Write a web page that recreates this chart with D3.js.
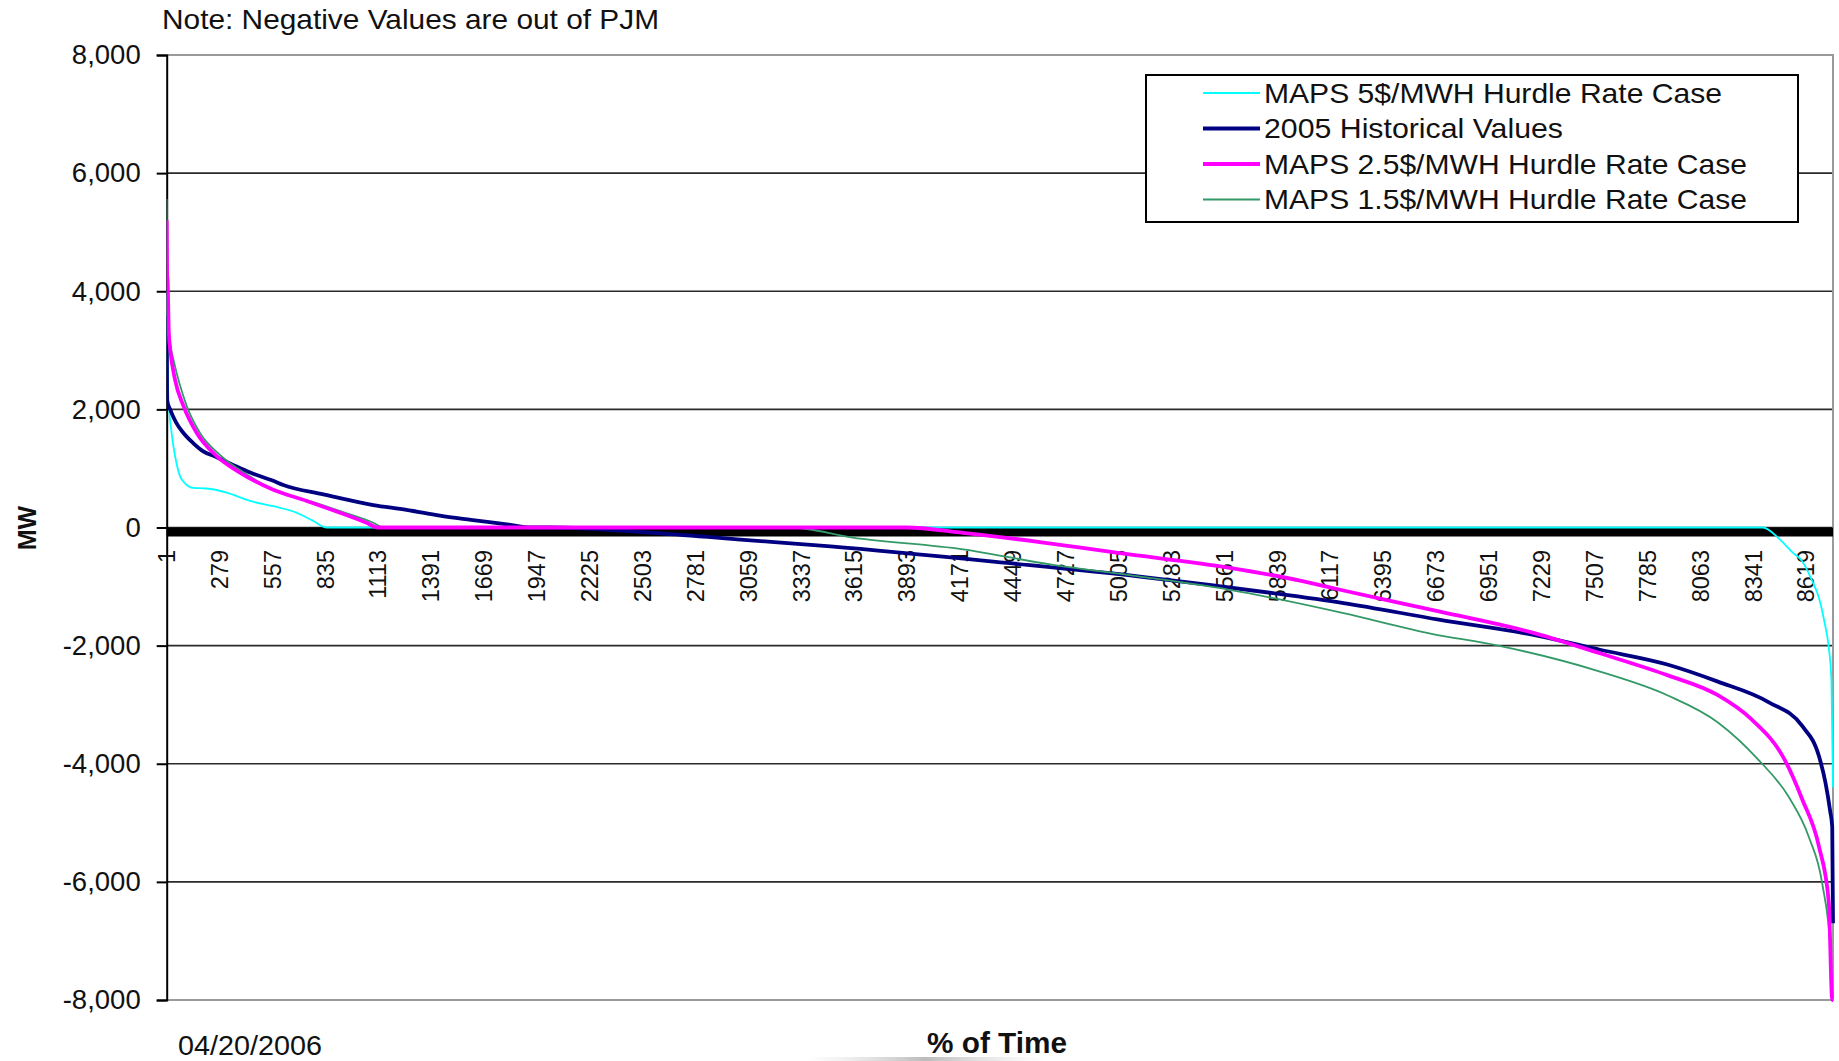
<!DOCTYPE html>
<html><head><meta charset="utf-8">
<script src="https://cdn.jsdelivr.net/npm/d3@7"></script>
<style>
body{margin:0;background:#fff}
svg{display:block}
text{font-family:"Liberation Sans",Arial,sans-serif;fill:#111}
</style>
</head><body>
<svg id="chart" width="1839" height="1061"></svg>
<script>
// ---------------- data ----------------
const nHours = 8760;
const yTickValues = [-8000, -6000, -4000, -2000, 0, 2000, 4000, 6000, 8000];
const xTickLabels = [1, 279, 557, 835, 1113, 1391, 1669, 1947, 2225, 2503, 2781, 3059, 3337, 3615, 3893, 4171, 4449, 4727, 5005, 5283, 5561, 5839, 6117, 6395, 6673, 6951, 7229, 7507, 7785, 8063, 8341, 8619];
const seriesNames = ["MAPS 5$/MWH Hurdle Rate Case", "2005 Historical Values", "MAPS 2.5$/MWH Hurdle Rate Case", "MAPS 1.5$/MWH Hurdle Rate Case"];

// MAPS 5$/MWH (cyan)
const maps5Hour = [1, 3, 8, 15, 25, 36, 55, 71, 100, 141, 211, 316, 439, 561, 684, 772, 842, 8391, 8480, 8550, 8598, 8650, 8686, 8715, 8738, 8752, 8760];
const maps5MW   = [4000, 3240, 2400, 1950, 1650, 1380, 1050, 870, 740, 670, 660, 590, 450, 360, 250, 110, 0, 0, -200, -430, -570, -900, -1190, -1600, -2040, -2600, -4400];

// 2005 Historical (navy)
const histHour = [1, 3, 19, 50, 89, 140, 193, 264, 350, 440, 561, 614, 824, 1087, 1262, 1437, 1600, 1800, 1916, 2010, 2560, 3000, 3490, 4418, 5117, 5815, 6187, 6688, 7204, 7535, 7889, 8155, 8423, 8598, 8686, 8721, 8745, 8756, 8760];
const histMW   = [3580, 2150, 2000, 1780, 1600, 1430, 1290, 1190, 1060, 930, 790, 720, 560, 380, 300, 200, 130, 50, 0, 0, -90, -200, -320, -600, -830, -1110, -1280, -1560, -1830, -2070, -2320, -2610, -2960, -3360, -3870, -4330, -4800, -5070, -6700];

// MAPS 2.5$/MWH (magenta)
const maps25Hour = [1, 3, 6, 12, 20, 45, 89, 159, 264, 386, 561, 737, 912, 1052, 1110, 3886, 4187, 4600, 5002, 5582, 5959, 6163, 6688, 7204, 7535, 7889, 8155, 8332, 8509, 8598, 8686, 8738, 8756, 8760];
const maps25MW   = [5200, 4300, 4150, 3300, 3000, 2500, 2060, 1600, 1210, 930, 640, 450, 250, 80, 0, 0, -90, -250, -430, -680, -900, -1050, -1420, -1800, -2130, -2500, -2840, -3250, -3950, -4600, -5400, -6350, -8000, -8000];

// MAPS 1.5$/MWH (green)
const maps15Hour = [1, 2, 5, 12, 20, 36, 106, 176, 281, 421, 561, 772, 947, 1087, 1140, 3280, 3606, 4187, 4653, 5117, 5582, 6187, 6650, 7000, 7535, 7889, 8155, 8367, 8527, 8633, 8704, 8748, 8757, 8760];
const maps15MW   = [5560, 4500, 4200, 3400, 3100, 2850, 2060, 1600, 1230, 900, 640, 430, 240, 80, 0, 0, -170, -370, -630, -830, -1050, -1450, -1800, -2000, -2440, -2840, -3300, -3930, -4560, -5240, -6040, -7190, -8000, -8000];

// ---------------- chart ----------------
const svg = d3.select("#chart");
const L = 166.7, R = 1833, T = 55, B = 1000;
const x = d3.scaleLinear().domain([1, nHours]).range([L, R]);
const y = d3.scaleLinear().domain([-8000, 8000]).range([B, T]);

const defs = svg.append("defs");
const g1 = defs.append("linearGradient").attr("id", "fadeBar");
g1.append("stop").attr("offset", "0%").attr("stop-color", "#ddd").attr("stop-opacity", 0);
g1.append("stop").attr("offset", "50%").attr("stop-color", "#bbb").attr("stop-opacity", 1);
g1.append("stop").attr("offset", "100%").attr("stop-color", "#ddd").attr("stop-opacity", 0);
defs.append("clipPath").attr("id", "plotClip").append("rect")
  .attr("x", L).attr("y", T - 2).attr("width", R - L + 2).attr("height", B - T + 4);

// grid lines (interior)
svg.append("g").selectAll("line")
  .data(yTickValues.filter(v => v > -8000 && v < 8000))
  .join("line")
  .attr("x1", L).attr("x2", R)
  .attr("y1", d => y(d)).attr("y2", d => y(d))
  .attr("stroke", "#2a2a2a").attr("stroke-width", 1.6);

// plot border (gray) top, right, bottom
svg.append("path")
  .attr("d", `M${L},${y(8000)}H${R}V${y(-8000)}H${L}`)
  .attr("fill", "none").attr("stroke", "#9a9a9a").attr("stroke-width", 2);

// thick black zero band
svg.append("rect")
  .attr("x", L).attr("y", y(0)).attr("width", R - L).attr("height", 9)
  .attr("fill", "#000");

// y axis
const fmt = d3.format(",");
const yAxis = d3.axisLeft(y).tickValues(yTickValues).tickSize(10).tickPadding(16)
  .tickFormat(d => fmt(d).replace("\u2212", "-"));
const yg = svg.append("g").attr("transform", `translate(${L},0)`).call(yAxis);
yg.select(".domain").attr("stroke", "#000").attr("stroke-width", 2);
yg.selectAll(".tick line").attr("stroke", "#000").attr("stroke-width", 2);
yg.selectAll(".tick text").attr("font-size", 27.5).attr("font-family", "Liberation Sans, Arial, sans-serif").attr("fill", "#111");

// x category labels
svg.append("g").selectAll("text")
  .data(xTickLabels)
  .join("text")
  .attr("transform", d => `translate(${x(d)},550) rotate(-90)`)
  .attr("text-anchor", "end")
  .attr("dy", "0.35em")
  .attr("font-size", 23.5)
  .text(d => d);

// series
const line = d3.line().x(d => x(d[0])).y(d => y(d[1])).curve(d3.curveMonotoneX);
const series = [
  {name: seriesNames[0], hours: maps5Hour, mw: maps5MW, color: "#00FFFF", w: 1.8, tl: 458},
  {name: seriesNames[1], hours: histHour, mw: histMW, color: "#000080", w: 3.8, tl: 299},
  {name: seriesNames[2], hours: maps25Hour, mw: maps25MW, color: "#FF00FF", w: 3.8, tl: 483},
  {name: seriesNames[3], hours: maps15Hour, mw: maps15MW, color: "#339966", w: 1.8, tl: 483}
];
const drawOrder = [0, 1, 3, 2];
const sg = svg.append("g").attr("clip-path", "url(#plotClip)");
drawOrder.forEach(i => {
  const s = series[i];
  sg.append("path")
    .datum(s.hours.map((h, k) => [h, s.mw[k]]))
    .attr("d", line)
    .attr("fill", "none")
    .attr("stroke", s.color)
    .attr("stroke-width", s.w)
    .attr("stroke-linejoin", "round");
});

// legend
const lg = svg.append("g");
lg.append("rect").attr("x", 1146).attr("y", 75).attr("width", 652).attr("height", 147)
  .attr("fill", "#fff").attr("stroke", "#000").attr("stroke-width", 2);
series.forEach((s, i) => {
  const yy = 93 + i * 35.5;
  lg.append("line").attr("x1", 1203).attr("x2", 1260).attr("y1", yy).attr("y2", yy)
    .attr("stroke", s.color).attr("stroke-width", s.w);
  lg.append("text").attr("x", 1264).attr("y", yy).attr("dy", "0.35em")
    .attr("font-size", 28.5)
    .attr("textLength", s.tl).attr("lengthAdjust", "spacingAndGlyphs")
    .text(s.name);
});

// texts
svg.append("text").attr("x", 162).attr("y", 29).attr("font-size", 28.5)
  .attr("textLength", 497).attr("lengthAdjust", "spacingAndGlyphs")
  .text("Note: Negative Values are out of PJM");
svg.append("text").attr("x", 178).attr("y", 1055).attr("font-size", 28)
  .attr("textLength", 144).attr("lengthAdjust", "spacingAndGlyphs")
  .text("04/20/2006");
svg.append("text").attr("x", 997).attr("y", 1053).attr("font-size", 29)
  .attr("font-weight", "bold").attr("text-anchor", "middle")
  .attr("textLength", 140).attr("lengthAdjust", "spacingAndGlyphs")
  .text("% of Time");
svg.append("text").attr("transform", "translate(27,528) rotate(-90)")
  .attr("text-anchor", "middle").attr("dy", "0.35em")
  .attr("font-size", 25).attr("font-weight", "bold").text("MW");

svg.append("rect").attr("x", 805).attr("y", 1057).attr("width", 240).attr("height", 4)
  .attr("fill", "url(#fadeBar)");
</script>
</body></html>
